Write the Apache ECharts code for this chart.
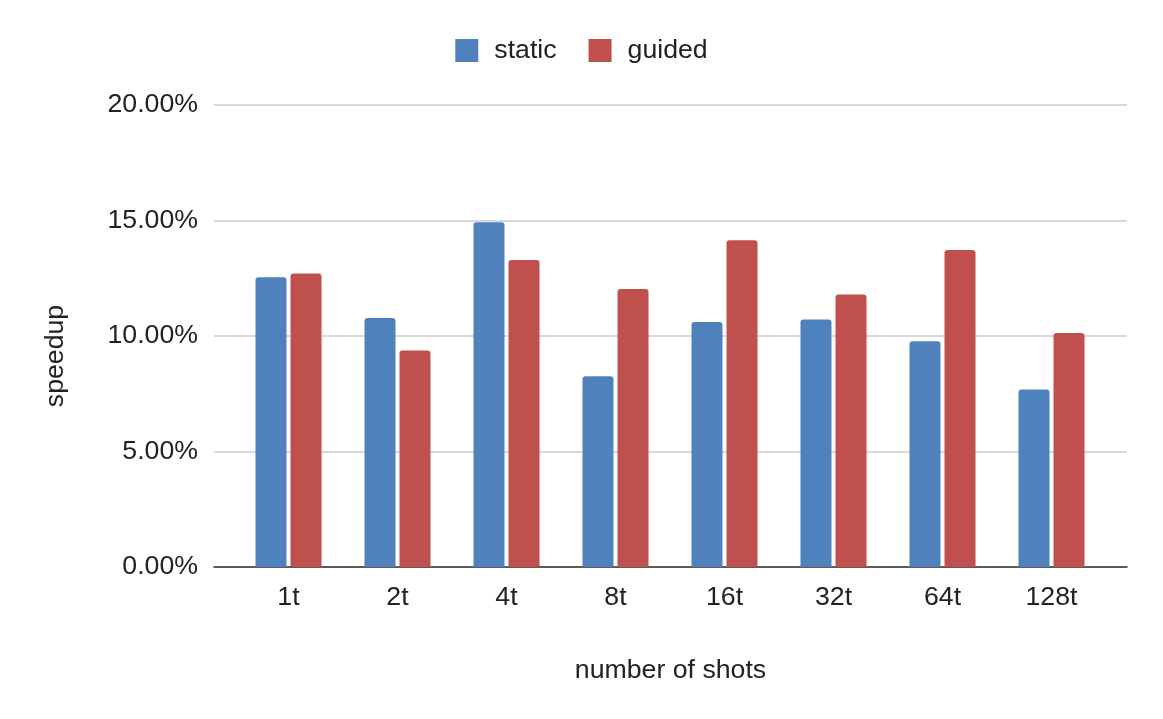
<!DOCTYPE html>
<html>
<head>
<meta charset="utf-8">
<script src="https://cdn.jsdelivr.net/npm/echarts@6/dist/echarts.min.js"></script>
<style>html,body{margin:0;padding:0;background:#fff}#c{width:1163px;height:719px}</style>
</head>
<body>
<div id="c"></div>
<script>
const categories = ['1t','2t','4t','8t','16t','32t','64t','128t'];
const staticVals = [12.54, 10.78, 14.92, 8.26, 10.61, 10.71, 9.77, 7.68];
const guidedVals = [12.71, 9.37, 13.29, 12.03, 14.15, 11.80, 13.72, 10.13];
const yTicks = [0, 5, 10, 15, 20];

const FONT = '"Liberation Sans", Arial, sans-serif';
const FS = 26.7;
const TXT = '#222222';
const chart = echarts.init(document.getElementById('c'), null, {renderer: 'canvas'});
chart.setOption({
  backgroundColor: '#ffffff',
  textStyle: {fontFamily: FONT},
  legend: {
    top: 32,
    left: 'center',
    icon: 'rect',
    itemWidth: 23,
    itemHeight: 23,
    itemGap: 32,
    textStyle: {fontSize: FS, color: TXT, fontFamily: FONT, padding: [0, 0, 0, 11]},
    data: ['static', 'guided']
  },
  grid: [
    {left: 214, right: 36, top: 105, bottom: 152},
    {left: 234, right: 57, top: 105, bottom: 152}
  ],
  xAxis: [
    {gridIndex: 0, type: 'category', data: categories, axisLabel: {show: false}, axisTick: {show: false},
     axisLine: {show: true, lineStyle: {color: '#333', width: 1.5}},
     name: 'number of shots', nameLocation: 'middle', nameGap: 90,
     nameTextStyle: {fontSize: FS, color: TXT, fontFamily: FONT}},
    {gridIndex: 1, type: 'category', data: categories, axisLine: {show: false}, axisTick: {show: false},
     axisLabel: {fontSize: FS, color: TXT, margin: 17, fontFamily: FONT}}
  ],
  yAxis: [
    {gridIndex: 0, type: 'value', min: yTicks[0], max: yTicks[yTicks.length - 1], interval: 5,
     axisLabel: {fontSize: FS, color: TXT, margin: 16, fontFamily: FONT, padding: [3, 0, 0, 0],
       formatter: v => v.toFixed(2) + '%'},
     axisLine: {show: false}, axisTick: {show: false},
     splitLine: {lineStyle: {color: '#cccccc', width: 1.5}},
     name: 'speedup', nameLocation: 'middle', nameGap: 145, nameRotate: 90,
     nameTextStyle: {fontSize: FS, color: TXT, fontFamily: FONT, padding: [0, 40, 0, 0]}},
    {gridIndex: 1, type: 'value', min: 0, max: 20, interval: 5, show: false, splitLine: {show: false}}
  ],
  series: [
    {name: 'static', type: 'bar', xAxisIndex: 1, yAxisIndex: 1, data: staticVals,
     barWidth: 31, barGap: '13%',
     itemStyle: {color: '#4f81bd', borderRadius: [3, 3, 0, 0]}},
    {name: 'guided', type: 'bar', xAxisIndex: 1, yAxisIndex: 1, data: guidedVals,
     barWidth: 31, barGap: '13%',
     itemStyle: {color: '#c0504d', borderRadius: [3, 3, 0, 0]}}
  ],
  animation: false
});
</script>
</body>
</html>
